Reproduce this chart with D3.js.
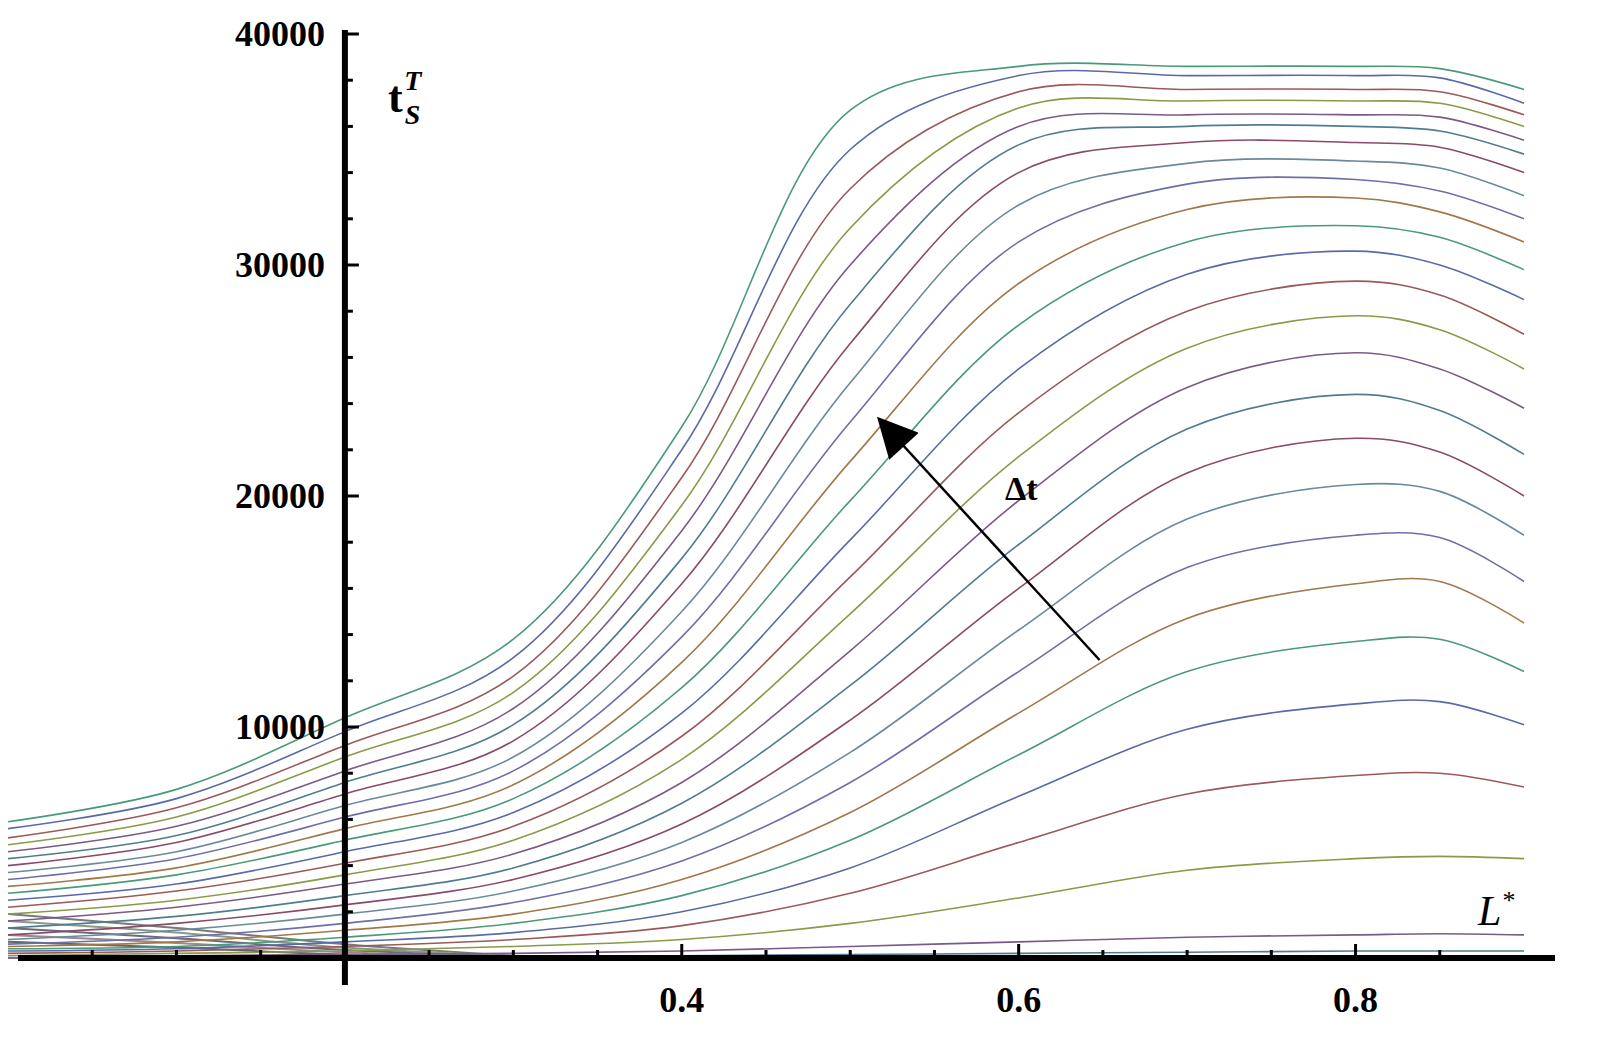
<!DOCTYPE html>
<html>
<head>
<meta charset="utf-8">
<script src="https://cdn.jsdelivr.net/npm/d3@7"></script>
<style>
  body { margin: 0; background: #fff; }
  text { font-family: "Liberation Serif", "DejaVu Serif", serif; }
</style>
</head>
<body>
<svg id="chart" width="1617" height="1061"></svg>
<script>
// sample positions along L*
var xs = [0, 0.1, 0.2, 0.3, 0.4, 0.5, 0.6, 0.7, 0.8, 0.85, 0.9]

// one row per curve, bottom to top
var curves = [
    [0, 0, 0, 50, 100, 150, 200, 250, 300, 300, 300],
    [0, 100, 150, 200, 300, 500, 700, 900, 1000, 1050, 1000],
    [100, 200, 300, 500, 800, 1500, 2600, 3800, 4300, 4400, 4300],
    [200, 300, 500, 800, 1400, 2800, 5000, 7100, 7900, 8000, 7400],
    [300, 400, 700, 1100, 2000, 3900, 7000, 9900, 11000, 11100, 10100],
    [400, 500, 900, 1500, 2700, 5100, 8800, 12400, 13700, 13800, 12400],
    [500, 700, 1200, 1900, 3400, 6300, 10600, 14700, 16200, 16300, 14500],
    [600, 900, 1500, 2400, 4200, 7600, 12400, 16900, 18300, 18200, 16300],
    [800, 1200, 1900, 2900, 5000, 8900, 14200, 19000, 20500, 20200, 18300],
    [1000, 1500, 2300, 3400, 5800, 10300, 16000, 21000, 22500, 21900, 20000],
    [1300, 1800, 2700, 3900, 6700, 11800, 17900, 22900, 24400, 23700, 21800],
    [1600, 2200, 3200, 4500, 7600, 13300, 19800, 24700, 26200, 25500, 23800],
    [1900, 2500, 3600, 5100, 8600, 14900, 21700, 26400, 27800, 27200, 25500],
    [2200, 2900, 4100, 5700, 9600, 16500, 23600, 28000, 29300, 28700, 27000],
    [2500, 3200, 4600, 6300, 10600, 18100, 25500, 29600, 30600, 30000, 28500],
    [2800, 3600, 5100, 6900, 11700, 19800, 27400, 31000, 31700, 31200, 29800],
    [3100, 3900, 5600, 7500, 12800, 21500, 29200, 32400, 32900, 32300, 31000],
    [3400, 4300, 6100, 8100, 13900, 23200, 31000, 33500, 33700, 33200, 32000],
    [3700, 4600, 6600, 8700, 15000, 24900, 32600, 34400, 34500, 34200, 33000],
    [4000, 5000, 7100, 9400, 16200, 26600, 34000, 35300, 35300, 35100, 34000],
    [4300, 5300, 7600, 10100, 17300, 28300, 35200, 36000, 36000, 35800, 34800],
    [4600, 5700, 8100, 10800, 18500, 30000, 36000, 36500, 36500, 36400, 35400],
    [4900, 6100, 8700, 11500, 19600, 31600, 36800, 37100, 37100, 37000, 36000],
    [5200, 6500, 9200, 12200, 20800, 33300, 37500, 37600, 37600, 37500, 36500],
    [5600, 6900, 9800, 13000, 22000, 35000, 38200, 38200, 38200, 38100, 37000],
    [5900, 7300, 10400, 13800, 23000, 36700, 38600, 38600, 38600, 38500, 37600]
]

// grey bundle at the far left that sinks toward the axis
var leftXs = [0, 0.1, 0.2, 0.3]
var leftCurves = [
    [1900, 1300, 600, 100],
    [1600, 1100, 450, 80],
    [1300, 850, 350, 60],
    [1000, 650, 250, 40],
    [700, 450, 150, 20]
]

var colors = ["#4f7d8f", "#7a5a86", "#8a9a48", "#9a5a5a", "#5a6aa6", "#4a9a78",
              "#a0784a", "#6e6eaa", "#6a8a9a", "#8a4a6a"]

var yTicks = [10000, 20000, 30000, 40000]
var xTicks = [0.4, 0.6, 0.8]
var arrowFrom = [0.648, 12900], arrowTo = [0.5175, 23300]

var svg = d3.select('#chart')
var x = d3.scaleLinear().domain([0, 0.9]).range([8, 1524])
var y = d3.scaleLinear().domain([0, 40000]).range([958, 34])

var line = d3.line()
    .x(function (d) { return x(d[0]) })
    .y(function (d) { return y(d[1]) })
    .curve(d3.curveCatmullRom.alpha(0.5))

leftCurves.forEach(function (row, i) {
    svg.append('path')
        .datum(leftXs.map(function (v, j) { return [v, row[j]] }))
        .attr('d', line)
        .attr('fill', 'none')
        .attr('stroke', ['#7a7a7a', '#8a9a8a', '#6a6a7a', '#9a8a8a', '#5a6a6a'][i])
        .attr('stroke-width', 2)
})

curves.forEach(function (row, i) {
    svg.append('path')
        .datum(xs.map(function (v, j) { return [v, row[j]] }))
        .attr('d', line)
        .attr('fill', 'none')
        .attr('stroke', colors[i % colors.length])
        .attr('stroke-width', 1.6)
})

// axes
var x0 = x(0.2), y0 = y(0)
svg.append('line').attr('x1', 18).attr('x2', 1555).attr('y1', y0).attr('y2', y0)
    .attr('stroke', '#000').attr('stroke-width', 6)
svg.append('line').attr('x1', x0).attr('x2', x0).attr('y1', 30).attr('y2', 985)
    .attr('stroke', '#000').attr('stroke-width', 6)

// minor ticks on y
d3.range(2000, 40001, 2000).forEach(function (v) {
    var major = v % 10000 === 0
    svg.append('line').attr('x1', x0).attr('x2', x0 + (major ? 14 : 8))
        .attr('y1', y(v)).attr('y2', y(v)).attr('stroke', '#000').attr('stroke-width', 3)
})
// minor ticks on x
d3.range(0.05, 0.9, 0.05).forEach(function (v) {
    var major = Math.abs(v * 10 - Math.round(v * 10)) < 1e-6 && Math.round(v * 10) % 2 === 0
    svg.append('line').attr('x1', x(v)).attr('x2', x(v))
        .attr('y1', y0).attr('y2', y0 - (major ? 14 : 8)).attr('stroke', '#000').attr('stroke-width', 3)
})

svg.selectAll('.ylab').data(yTicks).enter().append('text')
    .attr('x', x0 - 20).attr('y', function (d) { return y(d) + 12 })
    .attr('text-anchor', 'end').attr('font-size', 36).attr('font-weight', 'bold')
    .text(function (d) { return d })

svg.selectAll('.xlab').data(xTicks).enter().append('text')
    .attr('x', function (d) { return x(d) }).attr('y', 1012)
    .attr('text-anchor', 'middle').attr('font-size', 36).attr('font-weight', 'bold')
    .text(function (d) { return d.toFixed(1) })

// axis titles
var ty = svg.append('text').attr('x', 388).attr('y', 112).attr('font-size', 44).attr('font-weight', 'bold')
ty.append('tspan').text('t')
ty.append('tspan').attr('font-style', 'italic').attr('font-size', 28).attr('dx', 2).attr('dy', 12).text('S')
ty.append('tspan').attr('font-style', 'italic').attr('font-size', 28).attr('dx', -16).attr('dy', -34).text('T')

var tx = svg.append('text').attr('x', 1478).attr('y', 925).attr('font-size', 42).attr('font-style', 'italic')
tx.append('tspan').text('L')
tx.append('tspan').attr('font-size', 26).attr('dy', -16).text('*')

// arrow
svg.append('defs').append('marker').attr('id', 'head')
    .attr('viewBox', '0 0 10 10').attr('refX', 9).attr('refY', 5)
    .attr('markerWidth', 46).attr('markerHeight', 40).attr('markerUnits', 'userSpaceOnUse')
    .attr('orient', 'auto')
    .append('path').attr('d', 'M0,0 L10,5 L0,10 Z').attr('fill', '#000')
svg.append('line')
    .attr('x1', x(arrowFrom[0])).attr('y1', y(arrowFrom[1]))
    .attr('x2', x(arrowTo[0])).attr('y2', y(arrowTo[1]))
    .attr('stroke', '#000').attr('stroke-width', 2.5).attr('marker-end', 'url(#head)')
svg.append('text').attr('x', 1005).attr('y', 500).attr('font-size', 34).attr('font-weight', 'bold').text('Δt')
</script>
</body>
</html>
